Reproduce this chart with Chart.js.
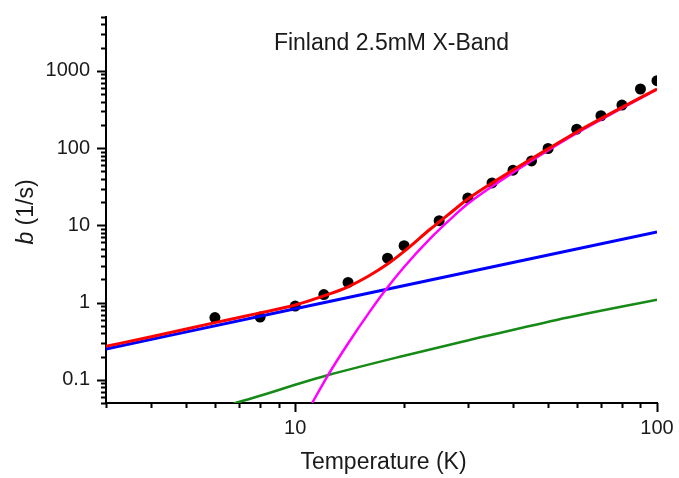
<!DOCTYPE html>
<html>
<head>
<meta charset="utf-8">
<title>Finland 2.5mM X-Band</title>
<script src="https://cdn.jsdelivr.net/npm/chart.js@4.4.0/dist/chart.umd.min.js"></script>
<style>
  html, body { margin: 0; padding: 0; background: #fff; }
  #wrap { width: 679px; height: 478px; }
</style>
</head>
<body>
<div id="wrap"><canvas id="rateChart" width="679" height="478"></canvas></div>
<script>
// measured points
const dataT = [6, 8, 10, 12, 14, 18, 20, 25, 30, 35, 40, 45, 50, 60, 70, 80, 90, 100];
const dataB = [0.64, 0.65, 0.9, 1.27, 1.82, 3.76, 5.45, 11.5, 22.6, 35.4, 51.8, 68.4, 99, 176, 263, 362, 584, 748];

// total fit (red)
const fitT = [3, 4, 6, 8, 10, 12, 14, 16, 18, 20, 23.6, 25, 27, 30, 35, 40, 45, 50, 60, 70, 80, 100];
const fitB = [0.272, 0.36, 0.55, 0.735, 0.93, 1.22, 1.6, 2.22, 3.15, 4.6, 8.9, 11.06, 14.8, 21.9, 35.3, 52, 73, 98, 162, 241, 338, 582];

// direct process (blue)
const directT = [3, 10, 100];
const directB = [0.25, 0.83, 8.2];

// second slow term (green)
const greenT = [6.74, 8, 10, 12.34, 20, 30, 52.8, 100];
const greenB = [0.049, 0.062, 0.086, 0.115, 0.205, 0.323, 0.596, 1.09];

// steep term (magenta)
const steepT = [11.14, 12.34, 14, 16, 17.9, 20, 23.6, 27, 30, 36.8, 45, 50, 60, 70, 80, 100];
const steepB = [0.05, 0.116, 0.295, 0.741, 1.52, 2.89, 6.73, 12.3, 19.0, 37.3, 68.9, 93.6, 156, 234, 330, 576];

// axis ticks
const xTicks = [3, 4, 5, 6, 7, 8, 9, 10, 20, 30, 40, 50, 60, 70, 80, 90, 100];
const xLabels = [10, 100];
const yTicks = [0.05, 0.06, 0.07, 0.08, 0.09, 0.1, 0.2, 0.3, 0.4, 0.5, 0.6, 0.7, 0.8, 0.9,
  1, 2, 3, 4, 5, 6, 7, 8, 9, 10, 20, 30, 40, 50, 60, 70, 80, 90,
  100, 200, 300, 400, 500, 600, 700, 800, 900, 1000, 2000, 3000, 4000, 5000];
const yLabels = [0.1, 1, 10, 100, 1000];

const INK = "#1a1a1a";
const FONT = "'Liberation Sans', Arial, sans-serif";

function toPoints(xs, ys) {
  return xs.map((x, i) => ({ x: x, y: ys[i] }));
}

function lineSet(xs, ys, color, width, order) {
  return {
    data: toPoints(xs, ys),
    showLine: true,
    borderColor: color,
    borderWidth: width,
    pointRadius: 0,
    cubicInterpolationMode: "monotone",
    clip: 0,
    order: order,
  };
}

// own tick marks: long for labelled decades, short for the rest
const tickMarks = {
  id: "tickMarks",
  afterDraw(chart) {
    const ctx = chart.ctx;
    const xs = chart.scales.x;
    const ys = chart.scales.y;
    const area = chart.chartArea;
    ctx.save();
    ctx.strokeStyle = "#000";
    ctx.lineWidth = 2;
    ctx.beginPath();
    xTicks.forEach((v) => {
      const px = Math.round(xs.getPixelForValue(v)) + 0.5;
      const len = xLabels.includes(v) ? 9 : 5;
      ctx.moveTo(px, area.bottom);
      ctx.lineTo(px, area.bottom + len);
    });
    yTicks.forEach((v) => {
      const py = Math.round(ys.getPixelForValue(v)) + 0.5;
      const len = yLabels.includes(v) ? 9 : 5;
      ctx.moveTo(area.left, py);
      ctx.lineTo(area.left - len, py);
    });
    ctx.stroke();

    // titles
    ctx.fillStyle = INK;
    ctx.textAlign = "center";
    ctx.textBaseline = "middle";
    ctx.font = "23px " + FONT;
    const cx = (area.left + area.right) / 2;
    ctx.fillText("Finland 2.5mM X-Band", cx + 10, area.top + 27);
    ctx.fillText("Temperature (K)", cx + 2, area.bottom + 60);

    // y title with italic b
    ctx.translate(27, (area.top + area.bottom) / 2 + 2);
    ctx.rotate(-Math.PI / 2);
    ctx.textAlign = "left";
    ctx.font = "italic 23px " + FONT;
    const wb = ctx.measureText("b").width;
    ctx.font = "23px " + FONT;
    const wr = ctx.measureText(" (1/s)").width;
    const start = -(wb + wr) / 2;
    ctx.font = "italic 23px " + FONT;
    ctx.fillText("b", start, 0);
    ctx.font = "23px " + FONT;
    ctx.fillText(" (1/s)", start + wb, 0);
    ctx.restore();
  },
};

function renderChart() {
  const ctx = document.getElementById("rateChart").getContext("2d");
  new Chart(ctx, {
    type: "scatter",
    data: {
      datasets: [
        {
          data: toPoints(dataT, dataB),
          pointRadius: 5.5,
          pointBackgroundColor: "#000",
          pointBorderWidth: 0,
          showLine: false,
          clip: 0,
          order: 5,
        },
        lineSet(fitT, fitB, "#ff0000", 3, 1),
        lineSet(steepT, steepB, "#ff00ff", 2.5, 2),
        lineSet(directT, directB, "#0000ff", 3, 3),
        lineSet(greenT, greenB, "#168a16", 2.5, 4),
      ],
    },
    options: {
      responsive: false,
      animation: false,
      devicePixelRatio: 1,
      layout: { padding: { top: 17, right: 22, left: 0, bottom: 0 } },
      plugins: {
        legend: { display: false },
        tooltip: { enabled: false },
        title: { display: false },
      },
      scales: {
        x: {
          type: "logarithmic",
          min: 3,
          max: 100,
          grid: { display: false, drawTicks: false },
          border: { display: true, color: "#000", width: 2 },
          afterFit: (scale) => {
            scale.height = 75;
            scale.paddingLeft = 0;
            scale.paddingRight = 0;
          },
          afterBuildTicks: (scale) => {
            scale.ticks = xTicks.map((v) => ({ value: v }));
          },
          ticks: {
            autoSkip: false,
            maxRotation: 0,
            padding: 13,
            color: INK,
            font: { family: FONT, size: 20 },
            callback: (v) => (xLabels.includes(v) ? String(v) : ""),
          },
        },
        y: {
          type: "logarithmic",
          min: 0.05,
          max: 5000,
          grid: { display: false, drawTicks: false },
          border: { display: true, color: "#000", width: 2 },
          afterFit: (scale) => {
            scale.width = 106;
            scale.paddingTop = 0;
            scale.paddingBottom = 0;
          },
          afterBuildTicks: (scale) => {
            scale.ticks = yTicks.map((v) => ({ value: v }));
          },
          ticks: {
            autoSkip: false,
            padding: 16,
            color: INK,
            font: { family: FONT, size: 20 },
            callback: (v) => (yLabels.includes(v) ? String(v) : ""),
          },
        },
      },
    },
    plugins: [tickMarks],
  });
}

document.addEventListener("DOMContentLoaded", renderChart);
</script>
</body>
</html>
